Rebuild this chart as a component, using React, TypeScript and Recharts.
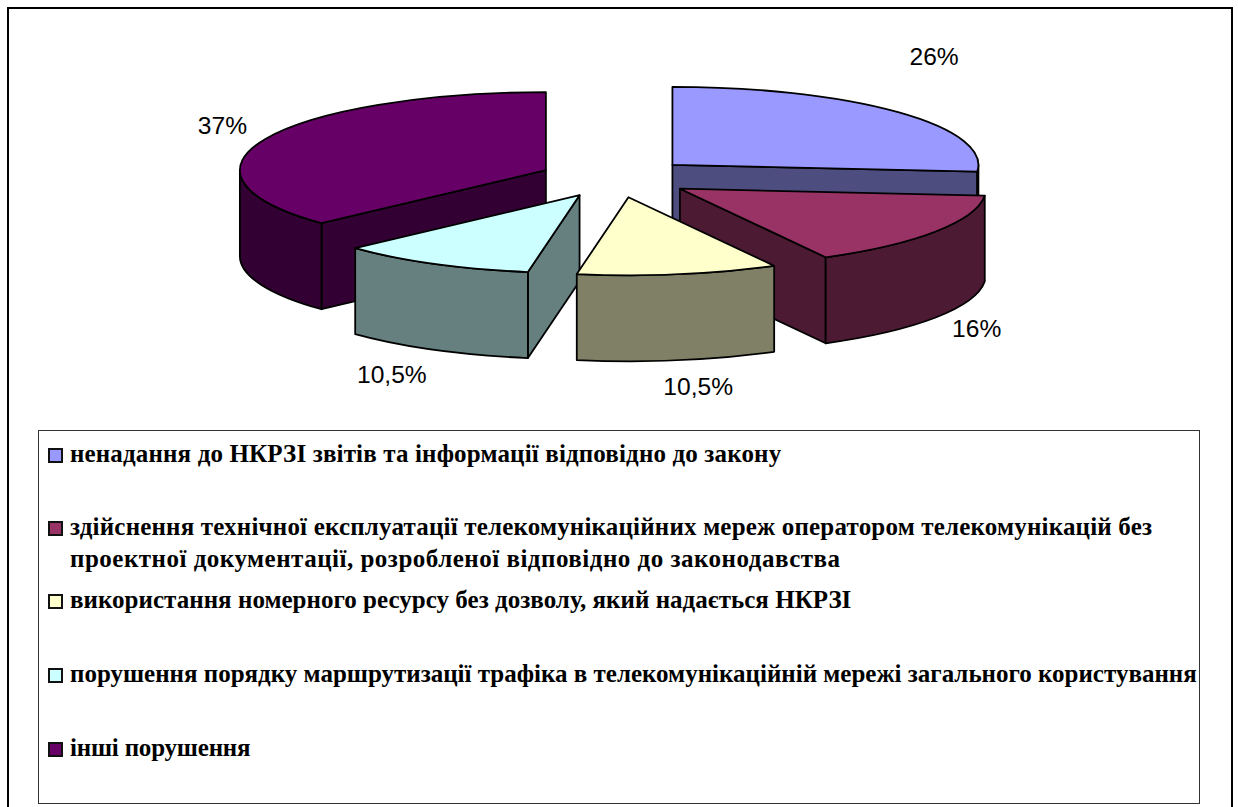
import { PieChart, Pie, Legend } from 'recharts'

const categories = [
  'ненадання до НКРЗІ звітів та інформації відповідно до закону',
  'здійснення технічної експлуатації телекомунікаційних мереж оператором телекомунікацій без\nпроектної документації, розробленої відповідно до законодавства',
  'використання номерного ресурсу без дозволу, який надається НКРЗІ',
  'порушення порядку маршрутизації трафіка в телекомунікаційній мережі загального користування',
  'інші порушення',
]
const shares = [26.4, 15.7, 10.6, 10.4, 36.9]
const shareLabels = ['26%', '16%', '10,5%', '10,5%', '37%']
const topColors = ['#9999FF', '#993366', '#FFFFCC', '#CCFFFF', '#660066']
const sideColors = ['#4D4D80', '#4D1A33', '#808066', '#668080', '#330033']

// slices overlap, so they are painted back to front
const paintOrder = [0, 4, 1, 3, 2]
const labelNudge = [[36, -55], [41, 97], [20, 113], [-42, 111], [-43, -13]]
const legendTops = [7, 80, 153, 227, 301]
const legendSpacing = [[0.15], [0.19, 0.5], [0.03], [0], [-0.2]]

const data = categories.map((name, i) => ({ name, value: shares[i] }))

const RX = 306
const RY = 78
const DEPTH = 86
const EXPLODE = 0.25

function Slice(props: any) {
  const { cx, cy, startAngle, endAngle, index } = props
  const rad = (a: number) => (a * Math.PI) / 180
  const mid = rad((startAngle + endAngle) / 2)
  const ax = cx + EXPLODE * RX * Math.cos(mid)
  const ay = cy - EXPLODE * RY * Math.sin(mid)
  const pt = (a: number) => [ax + RX * Math.cos(rad(a)), ay - RY * Math.sin(rad(a))]
  const [sx, sy] = pt(startAngle)
  const [ex, ey] = pt(endAngle)
  const large = startAngle - endAngle > 180 ? 1 : 0
  const line = { stroke: '#000', strokeWidth: 1.8, strokeLinejoin: 'round' as const }

  const wall = (x: number, y: number) =>
    `M${ax},${ay} L${x},${y} L${x},${y + DEPTH} L${ax},${ay + DEPTH} Z`

  // front part of the rim only, that is the part below the ellipse's long axis
  const from = Math.min(startAngle, 0)
  const to = Math.max(endAngle, -180)
  let rim = null
  if (from > to) {
    const [fx, fy] = pt(from)
    const [tx, ty] = pt(to)
    rim = `M${fx},${fy} A${RX},${RY} 0 0 1 ${tx},${ty} L${tx},${ty + DEPTH} A${RX},${RY} 0 0 0 ${fx},${fy + DEPTH} Z`
  }

  return (
    <g>
      {Math.cos(rad(startAngle)) < -1e-6 && <path d={wall(sx, sy)} fill={sideColors[index]} {...line} />}
      {Math.cos(rad(endAngle)) > 1e-6 && <path d={wall(ex, ey)} fill={sideColors[index]} {...line} />}
      {rim && <path d={rim} fill={sideColors[index]} {...line} />}
      <path
        d={`M${ax},${ay} L${sx},${sy} A${RX},${RY} 0 ${large} 1 ${ex},${ey} Z`}
        fill={topColors[index]}
        {...line}
      />
    </g>
  )
}

function ShareLabel(props: any) {
  const { cx, cy, midAngle, index } = props
  const a = (midAngle * Math.PI) / 180
  const x = cx + (1 + EXPLODE) * RX * Math.cos(a) + labelNudge[index][0]
  const y = cy - (1 + EXPLODE) * RY * Math.sin(a) + labelNudge[index][1]
  return (
    <text
      transform={`translate(${x},${y}) scale(1.07,1)`}
      textAnchor="middle"
      dominantBaseline="central"
      fontFamily="'Liberation Sans', Arial, sans-serif"
      fontSize={23}
      fill="#000"
    >
      {shareLabels[index]}
    </text>
  )
}

function LegendBox() {
  return (
    <div style={{ position: 'relative', width: 1160, height: 372, border: '1px solid #333', background: '#fff', fontFamily: "'Liberation Serif', serif", fontWeight: 700, fontSize: 25, lineHeight: '32px', color: '#000' }}>
      {categories.map((name, i) => (
        <div key={i} style={{ position: 'absolute', left: 10, top: legendTops[i], whiteSpace: 'pre' }}>
          <span style={{ position: 'absolute', left: -1, top: 10, width: 15, height: 15, boxSizing: 'border-box', border: '2px solid #111', background: topColors[i] }} />
          {name.split('\n').map((text, k) => (
            <div key={k} style={{ marginLeft: 21, letterSpacing: legendSpacing[i][k] }}>{text}</div>
          ))}
        </div>
      ))}
    </div>
  )
}

export default function App() {
  return (
    <div style={{ position: 'absolute', left: 0, top: 0, width: 1238, height: 807, overflow: 'hidden', background: '#fff' }}>
      <div style={{ position: 'absolute', left: 7, top: 7, width: 1222, height: 820, border: '2.5px solid #000' }} />
      <PieChart width={1238} height={807} margin={{ top: 0, right: 0, bottom: 0, left: 0 }}>
        {paintOrder.map((slice, n) => (
          <Pie
            key={slice}
            data={data}
            dataKey="value"
            nameKey="name"
            cx={616}
            cy={178}
            outerRadius={RX}
            startAngle={90}
            endAngle={-270}
            stroke="none"
            isAnimationActive={false}
            shape={(p: any) => (p.index === slice ? <Slice {...p} /> : <g />)}
            label={n === paintOrder.length - 1 ? (p: any) => <ShareLabel {...p} /> : false}
            labelLine={false}
          />
        ))}
        <Legend
          verticalAlign="bottom"
          content={() => <LegendBox />}
          wrapperStyle={{ left: 38, top: 430, bottom: 'auto', width: 1162, height: 374 }}
        />
      </PieChart>
    </div>
  )
}
